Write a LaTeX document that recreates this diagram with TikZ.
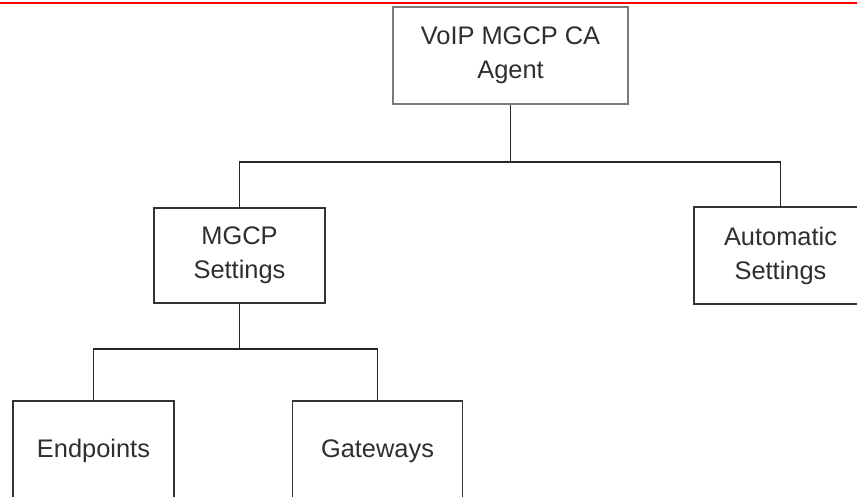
\documentclass[tikz,border=0pt]{standalone}
\usepackage{fontspec}
\setmainfont{Liberation Sans}
\usetikzlibrary{positioning}

\definecolor{boxtext}{HTML}{2E2E2E}
\definecolor{rootedge}{HTML}{7A7A7A}

\begin{document}
\begin{tikzpicture}
    [
        x=1bp, y=-1bp,
        on grid,
        font=\fontsize{25.5}{34}\selectfont,
        box/.style={draw=black!80, rectangle, line width=1.6bp, text=boxtext, align=center, inner sep=0pt},
        rootbox/.style={box, draw=rootedge, line width=2.8bp},
        openbox/.style={box, draw=none},
        boxline/.style={draw=black!80, line width=1.6bp},
        link/.style={draw=black!85, line width=1.4bp}
    ]
        \useasboundingbox (0,0) rectangle (857,497);
        \clip (0,0) rectangle (857,497);
        % =========================================================================
        % NODES
        % =========================================================================
        % --- Level 0 ---
        \node [rootbox, minimum width=235bp, minimum height=97bp] (root) at (510.5,55.5) {VoIP MGCP CA\\Agent};
        \coordinate [below=106.5bp of root] (split1);
        % --- Level 1 ---
        \node [box, minimum width=171bp, minimum height=95bp, below left=200bp and 271bp of root] (mgcp) {MGCP\\Settings};
        \node [openbox, minimum width=171bp, minimum height=95bp, below right=200bp and 270bp of root] (auto) {Automatic\\Settings};
        \coordinate [below=93.5bp of mgcp] (split2);
        % --- Level 2 ---
        \node [box, minimum width=161bp, minimum height=100bp, below left=195.5bp and 146bp of mgcp] (endpts) {Endpoints};
        \node [box, minimum width=170bp, minimum height=100bp, below right=195.5bp and 138bp of mgcp] (gways) {Gateways};
        % --- Top rule ---
        \coordinate (ruleL) at (0,3);
        \coordinate (ruleR) at (857,3);

        % =========================================================================
        % PATHS
        % =========================================================================
        \draw [red, line width=2.6bp] (ruleL) -- (ruleR);
        % --- Right box, cut by the page edge ---
        \draw [boxline] (auto.north east) -- (auto.north west) -- (auto.south west) -- (auto.south east);
        % --- Root to level 1 ---
        \draw [link] (root.south) -- (split1);
        \draw [link] (split1) -| (mgcp.north);
        \draw [link] (split1) -| (auto.north);
        % --- MGCP to level 2 ---
        \draw [link] (mgcp.south) -- (split2);
        \draw [link] (split2) -| (endpts.north);
        \draw [link] (split2) -| (gways.north);

    \end{tikzpicture}
\end{document}
